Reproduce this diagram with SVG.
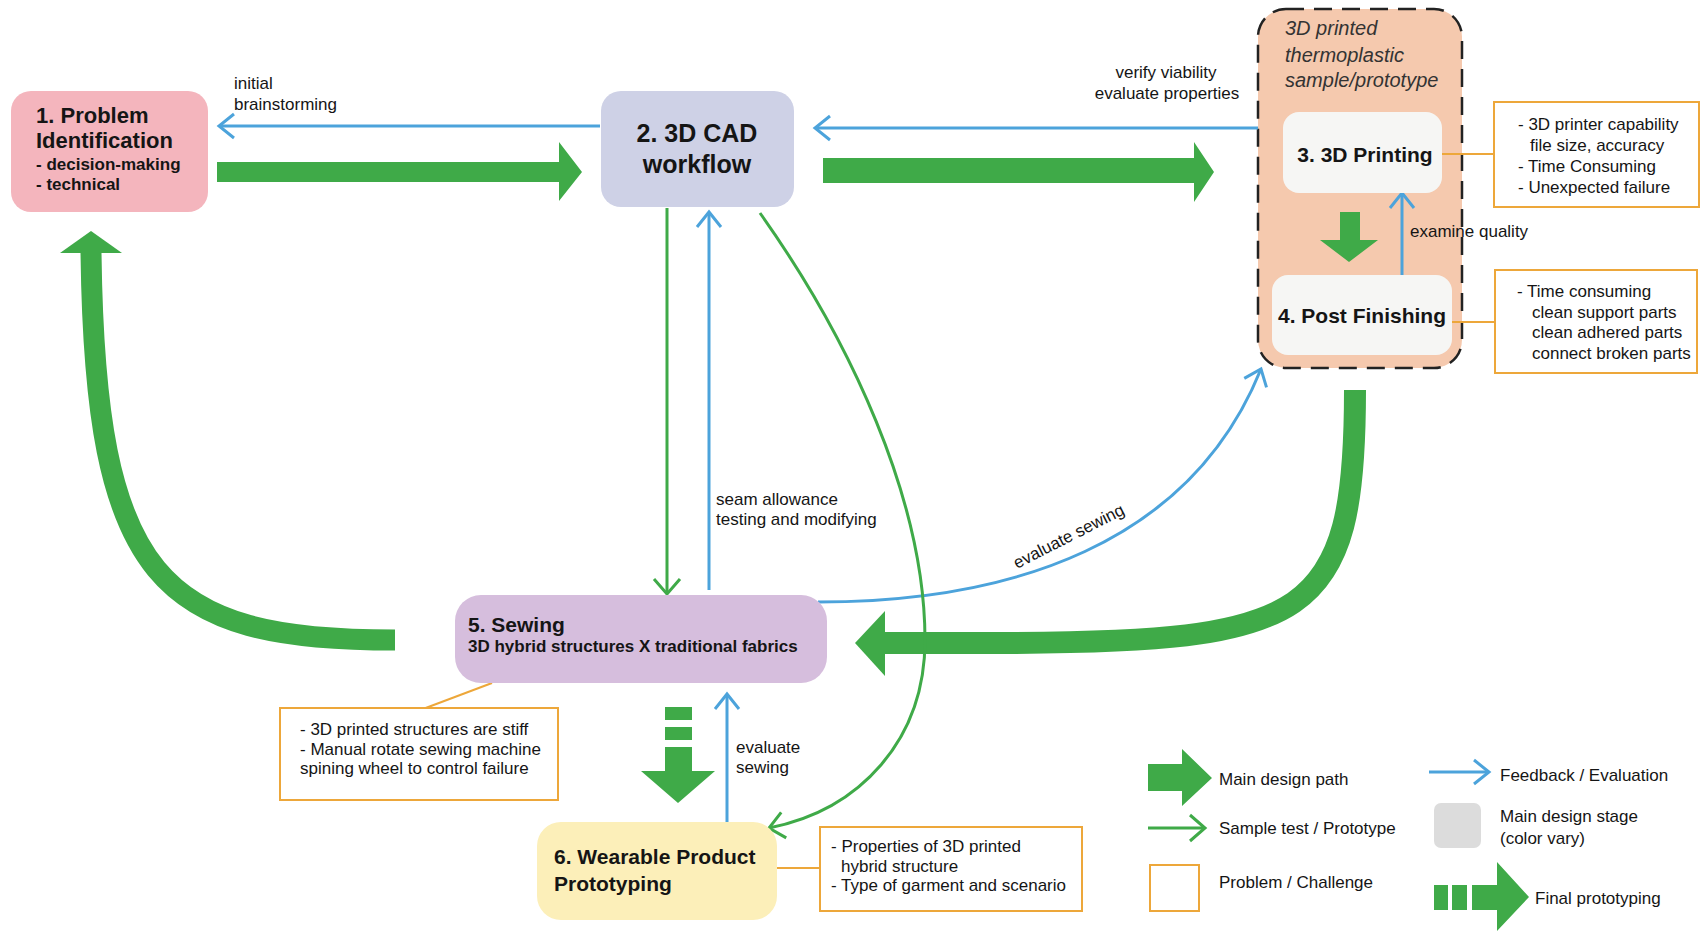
<svg xmlns="http://www.w3.org/2000/svg" width="1701" height="932" viewBox="0 0 1701 932">
  <style>
    text { font-family: "Liberation Sans", Arial, sans-serif; fill: #151515; }
    .lbl { font-size: 17px; }
    .title { font-size: 21px; font-weight: bold; }
    .sub { font-size: 17px; font-weight: bold; }
    .ital { font-size: 20px; font-style: italic; fill: #333; }
    .fb { fill: none; stroke: #4CA3DB; stroke-width: 3; }
    .st { fill: none; stroke: #3FAA48; stroke-width: 3; }
    .main { fill: #3FAA48; }
    .mainline { fill: none; stroke: #3FAA48; }
    .prob { fill: #fff; stroke: #EDA73A; stroke-width: 2; }
    .link { fill: none; stroke: #EDA73A; stroke-width: 2; }
  </style>
  <defs>
    <marker id="chev-blue" markerUnits="userSpaceOnUse" viewBox="-18 -15 22 30" refX="0" refY="0" markerWidth="22" markerHeight="30" orient="auto">
      <path d="M-15,-12 L0,0 L-15,12" fill="none" stroke="#4CA3DB" stroke-width="3"/>
    </marker>
    <marker id="chev-green" markerUnits="userSpaceOnUse" viewBox="-18 -15 22 30" refX="0" refY="0" markerWidth="22" markerHeight="30" orient="auto">
      <path d="M-15,-13 L0,0 L-15,13" fill="none" stroke="#3FAA48" stroke-width="3"/>
    </marker>
  </defs>
  <rect width="1701" height="932" fill="#fff"/>

  <!-- container for the printed sample stages -->
  <g id="sample-container">
    <rect x="1258" y="9" width="204" height="359" rx="28" fill="#F5C9AE" stroke="#222" stroke-width="2.5" stroke-dasharray="18 10"/>
    <text class="ital" x="1285" y="35">3D printed</text>
    <text class="ital" x="1285" y="62">thermoplastic</text>
    <text class="ital" x="1285" y="87">sample/prototype</text>
  </g>

  <!-- connectors -->
  <g id="connectors">
    <!-- main design path (thick) -->
    <polygon class="main" points="217,162 559,162 559,142 582,172 559,201 559,182 217,182"/>
    <polygon class="main" points="823,158 1194,158 1194,142 1214,172 1194,202 1194,183 823,183"/>
    <polygon class="main" points="1340,212 1360,212 1360,240 1378,240 1349,262 1320,240 1340,240"/>
    <path class="mainline" stroke-width="22" d="M1355,390 C1355,620 1310,642 1000,643 L884,643"/>
    <polygon class="main" points="885,611 855,643 885,676"/>
    <path class="mainline" stroke-width="21" d="M395,640 C160,640 95,580 91,252"/>
    <polygon class="main" points="60,253 91,231 122,253"/>
    <!-- final prototyping -->
    <rect class="main" x="665" y="707" width="27" height="13"/>
    <rect class="main" x="665" y="727" width="27" height="13"/>
    <polygon class="main" points="665,747 692,747 692,771 715,771 678,803 641,771 665,771"/>

    <!-- feedback / evaluation -->
    <line class="fb" x1="600" y1="126" x2="219" y2="126" marker-end="url(#chev-blue)"/>
    <line class="fb" x1="1258" y1="128" x2="815" y2="128" marker-end="url(#chev-blue)"/>
    <line class="fb" x1="1402" y1="275" x2="1402" y2="193" marker-end="url(#chev-blue)"/>
    <line class="fb" x1="709" y1="590" x2="709" y2="212" marker-end="url(#chev-blue)"/>
    <line class="fb" x1="727" y1="822" x2="727" y2="694" marker-end="url(#chev-blue)"/>
    <path class="fb" d="M818,602 C1010,602 1190,545 1261,369" marker-end="url(#chev-blue)"/>

    <!-- sample test / prototype -->
    <line class="st" x1="667" y1="208" x2="667" y2="594" marker-end="url(#chev-green)"/>
    <path class="st" d="M760,213 C850,340 925,500 925,640 C925,740 860,810 769,828" marker-end="url(#chev-green)"/>

    <!-- problem links -->
    <line class="link" x1="1442" y1="154" x2="1494" y2="154"/>
    <line class="link" x1="1452" y1="322" x2="1495" y2="322"/>
    <line class="link" x1="423" y1="709" x2="492" y2="683"/>
    <line class="link" x1="777" y1="868" x2="820" y2="868"/>

    <!-- connector labels -->
    <text class="lbl" x="234" y="89">initial</text>
    <text class="lbl" x="234" y="110">brainstorming</text>
    <text class="lbl" x="1166" y="78" text-anchor="middle">verify viability</text>
    <text class="lbl" x="1167" y="99" text-anchor="middle">evaluate properties</text>
    <text class="lbl" x="1410" y="237">examine quality</text>
    <text class="lbl" x="716" y="505">seam allowance</text>
    <text class="lbl" x="716" y="525">testing and modifying</text>
    <text class="lbl" x="1017" y="569" transform="rotate(-27 1017 569)">evaluate sewing</text>
    <text class="lbl" x="736" y="753">evaluate</text>
    <text class="lbl" x="736" y="773">sewing</text>
  </g>

  <!-- design stages -->
  <g id="node-1">
    <rect x="11" y="91" width="197" height="121" rx="20" fill="#F4B5BD"/>
    <text x="36" y="123" style="font-size:22px;font-weight:bold">1. Problem</text>
    <text x="36" y="148" style="font-size:22px;font-weight:bold">Identification</text>
    <text class="sub" x="36" y="170">- decision-making</text>
    <text class="sub" x="36" y="190">- technical</text>
  </g>

  <g id="node-2">
    <rect x="601" y="91" width="193" height="116" rx="20" fill="#CED1E6"/>
    <text x="697" y="142" text-anchor="middle" style="font-size:25px;font-weight:bold">2. 3D CAD</text>
    <text x="697" y="173" text-anchor="middle" style="font-size:25px;font-weight:bold">workflow</text>
  </g>

  <g id="node-3">
    <rect x="1283" y="112" width="159" height="81" rx="16" fill="#F6F6F4"/>
    <text class="title" x="1365" y="162" text-anchor="middle">3. 3D Printing</text>
  </g>

  <g id="node-4">
    <rect x="1272" y="275" width="180" height="80" rx="16" fill="#F6F6F4"/>
    <text class="title" x="1362" y="323" text-anchor="middle">4. Post Finishing</text>
  </g>

  <g id="node-5">
    <rect x="455" y="595" width="372" height="88" rx="26" fill="#D6BEDD"/>
    <text class="title" x="468" y="632">5. Sewing</text>
    <text class="sub" x="468" y="652">3D hybrid structures X traditional fabrics</text>
  </g>

  <g id="node-6">
    <rect x="537" y="822" width="240" height="98" rx="24" fill="#FCEFB9"/>
    <text class="title" x="554" y="864">6. Wearable Product</text>
    <text class="title" x="554" y="891">Prototyping</text>
  </g>

  <!-- problems / challenges -->
  <g id="problem-printing">
    <rect class="prob" x="1494" y="102" width="205" height="105"/>
    <text class="lbl" x="1518" y="130">- 3D printer capability</text>
    <text class="lbl" x="1530" y="151">file size, accuracy</text>
    <text class="lbl" x="1518" y="172">- Time Consuming</text>
    <text class="lbl" x="1518" y="193">- Unexpected failure</text>
  </g>

  <g id="problem-finishing">
    <rect class="prob" x="1495" y="270" width="202" height="103"/>
    <text class="lbl" x="1517" y="297">- Time consuming</text>
    <text class="lbl" x="1532" y="318">clean support parts</text>
    <text class="lbl" x="1532" y="338">clean adhered parts</text>
    <text class="lbl" x="1532" y="359">connect broken parts</text>
  </g>

  <g id="problem-sewing">
    <rect class="prob" x="280" y="708" width="278" height="92"/>
    <text class="lbl" x="300" y="735">- 3D printed structures are stiff</text>
    <text class="lbl" x="300" y="755">- Manual rotate sewing machine</text>
    <text class="lbl" x="300" y="774">spining wheel to control failure</text>
  </g>

  <g id="problem-prototyping">
    <rect class="prob" x="820" y="827" width="262" height="84"/>
    <text class="lbl" x="831" y="852">- Properties of 3D printed</text>
    <text class="lbl" x="841" y="872">hybrid structure</text>
    <text class="lbl" x="831" y="891">- Type of garment and scenario</text>
  </g>

  <!-- legend -->
  <g id="legend">
    <polygon class="main" points="1148,764 1182,764 1182,749 1212,778 1182,806 1182,791 1148,791"/>
    <text class="lbl" x="1219" y="785">Main design path</text>
    <line class="st" x1="1148" y1="828" x2="1205" y2="828" marker-end="url(#chev-green)"/>
    <text class="lbl" x="1219" y="834">Sample test / Prototype</text>
    <rect class="prob" x="1150" y="865" width="49" height="46"/>
    <text class="lbl" x="1219" y="888">Problem / Challenge</text>
    <line class="fb" x1="1429" y1="772" x2="1489" y2="772" marker-end="url(#chev-blue)"/>
    <text class="lbl" x="1500" y="781">Feedback / Evaluation</text>
    <rect x="1434" y="803" width="47" height="45" rx="7" fill="#DCDCDC"/>
    <text class="lbl" x="1500" y="822">Main design stage</text>
    <text class="lbl" x="1500" y="844">(color vary)</text>
    <rect class="main" x="1434" y="885" width="14" height="25"/>
    <rect class="main" x="1452" y="885" width="15" height="25"/>
    <polygon class="main" points="1472,885 1497,885 1497,862 1529,897 1497,931 1497,910 1472,910"/>
    <text class="lbl" x="1535" y="904">Final prototyping</text>
  </g>
</svg>
